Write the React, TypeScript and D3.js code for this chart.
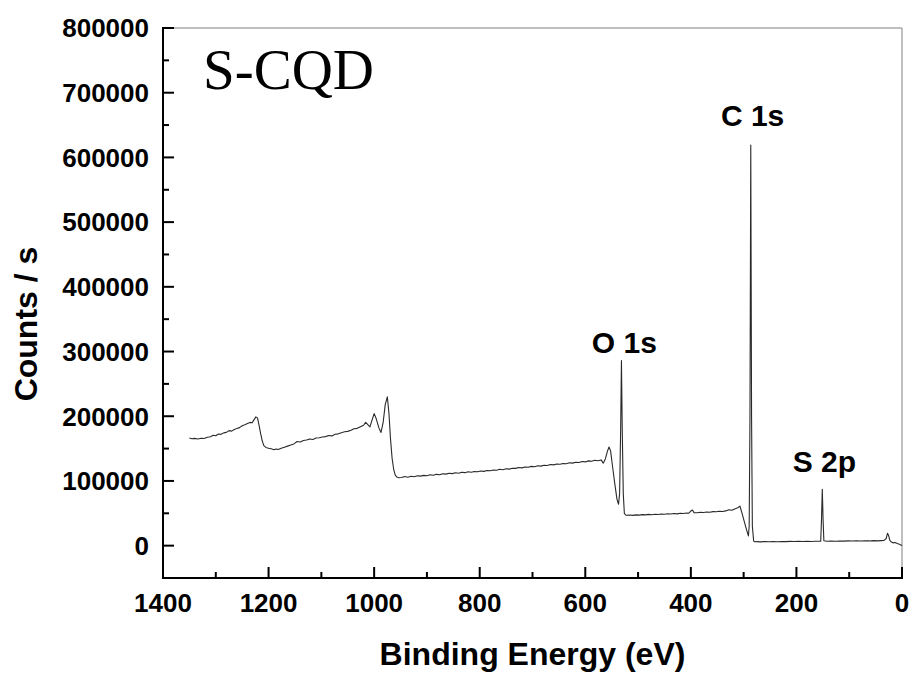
import React from "react";
import * as d3 from "d3";

// Binding energy (eV), counts/s
const spectrum: [number, number][] = [
  [1350, 166500], [1345, 165200], [1340, 165800], [1334, 164900], [1328, 166000],
  [1322, 165600], [1316, 167400], [1310, 168200], [1305, 170500], [1300, 169800],
  [1295, 172600], [1290, 172000], [1285, 174300], [1280, 175100], [1275, 177800],
  [1270, 177000], [1265, 179600], [1260, 180900], [1255, 182400], [1250, 185300],
  [1245, 186800], [1240, 188700], [1235, 190500], [1231, 190000], [1228, 194000],
  [1224, 199000], [1221, 197500], [1218, 186000], [1215, 173000], [1212, 162000],
  [1209, 154500], [1205, 151800], [1200, 150500], [1195, 149800], [1190, 148200],
  [1186, 149500], [1182, 148700], [1176, 150600], [1170, 152200], [1164, 153800],
  [1158, 155500], [1152, 157200], [1146, 160900], [1140, 160100], [1134, 162500],
  [1128, 163200], [1122, 164900], [1116, 164100], [1110, 166300], [1104, 166800],
  [1098, 167900], [1092, 168500], [1086, 170200], [1080, 169600], [1074, 172100],
  [1068, 172800], [1062, 174500], [1056, 175900], [1050, 176600], [1044, 178200],
  [1038, 180600], [1032, 181300], [1026, 183800], [1020, 186000], [1016, 190500],
  [1012, 187000], [1008, 183600], [1004, 194000], [1000, 204000], [996, 196000],
  [991, 182000], [987, 175000], [983, 190000], [979, 218000], [975, 230000],
  [972, 205000], [969, 165000], [966, 135000], [963, 118000], [960, 109000],
  [957, 106000], [953, 105000], [948, 105400], [942, 106900], [936, 105800],
  [930, 107300], [924, 106500], [918, 108100], [912, 107400], [906, 108600],
  [900, 108000], [894, 109500], [888, 108900], [882, 110200], [876, 109600],
  [870, 111100], [864, 110500], [858, 111800], [852, 111300], [846, 112600],
  [840, 112000], [834, 113400], [828, 112800], [822, 114100], [816, 113500],
  [810, 114700], [804, 114200], [798, 115400], [792, 114800], [786, 116100],
  [780, 115700], [774, 117000], [768, 116600], [762, 118000], [756, 117400],
  [750, 118900], [744, 118300], [738, 119700], [732, 119400], [726, 120800],
  [720, 120200], [714, 121600], [708, 121100], [702, 122500], [696, 122000],
  [690, 123400], [684, 122900], [678, 124300], [672, 123800], [666, 125300],
  [660, 124800], [654, 126200], [648, 125700], [642, 127000], [636, 126600],
  [630, 128100], [624, 127500], [618, 129000], [612, 128400], [606, 130000],
  [600, 129400], [594, 131000], [588, 130400], [582, 132000], [576, 131300],
  [570, 132500], [566, 127500], [562, 134000], [558, 146000], [555, 152500],
  [552, 146000], [548, 120000], [544, 95000], [540, 72000], [537, 64000],
  [535, 80000], [533, 180000], [531.5, 286000], [530, 180000], [528, 80000],
  [526, 50000], [523, 47000], [516, 47400], [510, 46800], [504, 47600],
  [498, 47200], [492, 48000], [486, 47500], [480, 48300], [474, 47800],
  [468, 48600], [462, 48100], [456, 48900], [450, 48500], [444, 49200],
  [438, 48800], [432, 49600], [426, 49100], [420, 50000], [414, 49600],
  [408, 50400], [404, 50100], [400, 53500], [397, 55000], [394, 51000],
  [388, 50800], [382, 51600], [376, 51200], [370, 52100], [364, 51700],
  [358, 52600], [352, 52300], [346, 53100], [340, 52800], [334, 53700],
  [328, 55500], [322, 54800], [316, 57000], [311, 58500], [307, 61000],
  [303, 50000], [299, 38000], [295, 26000], [291, 15000], [289.5, 30000],
  [288, 200000], [286.5, 619000], [285, 200000], [283.5, 30000], [281, 7000],
  [279, 6000], [274, 6200], [268, 5900], [260, 6300], [252, 6000],
  [244, 6400], [236, 6100], [228, 6500], [220, 6200], [212, 6600],
  [204, 6300], [196, 6700], [188, 6400], [180, 6800], [172, 6500],
  [164, 6900], [157, 6700], [154, 7000], [152.5, 40000], [151, 87000],
  [149.5, 40000], [148, 7500], [142, 6800], [134, 7100], [126, 6900],
  [118, 7200], [110, 7000], [102, 7300], [94, 7100], [86, 7400],
  [78, 7200], [70, 7500], [62, 7300], [54, 7700], [46, 7400],
  [40, 7800], [34, 8200], [30, 11000], [27.5, 19000], [25.5, 16000],
  [23, 8000], [20, 5500], [17, 4300], [13, 4800], [9, 3200],
  [5, 2200], [2, 800], [0, 300],
];

const xMajorTicks = [1400, 1200, 1000, 800, 600, 400, 200, 0];
const xMinorTicks = [1300, 1100, 900, 700, 500, 300, 100];
const yMajorTicks = [0, 100000, 200000, 300000, 400000, 500000, 600000, 700000, 800000];
const yMinorTicks = [-50000, 50000, 150000, 250000, 350000, 450000, 550000, 650000, 750000];

const peakLabels: { text: string; energy: number; counts: number }[] = [
  { text: "O 1s", energy: 526, counts: 297500 },
  { text: "C 1s", energy: 283, counts: 648400 },
  { text: "S 2p", energy: 147, counts: 113600 },
];

const sampleName = "S-CQD";
const xTitle = "Binding Energy (eV)";
const yTitle = "Counts / s";

const W = 912;
const H = 673;
const left = 163;
const right = 902;
const top = 28;
const bottom = 578;

export default function App() {
  const x = d3.scaleLinear().domain([1400, 0]).range([left, right]);
  const y = d3.scaleLinear().domain([-50000, 800000]).range([bottom, top]);
  const line = d3
    .line<[number, number]>()
    .x((d) => x(d[0]))
    .y((d) => y(d[1]));

  const sans = "'Liberation Sans', Arial, sans-serif";

  return (
    <svg
      width={W}
      height={H}
      viewBox={`0 0 ${W} ${H}`}
      style={{ position: "absolute", left: 0, top: 0, background: "#fff" }}
    >
      <rect x={0} y={0} width={W} height={H} fill="#fff" />
      {/* frame top/right */}
      <line x1={left} x2={right} y1={top} y2={top} stroke="#aaa" strokeWidth={1.5} />
      <line x1={right} x2={right} y1={top} y2={bottom} stroke="#aaa" strokeWidth={1.5} />

      {/* spectrum */}
      <path d={line(spectrum) || ""} fill="none" stroke="#2a2a2a" strokeWidth={1.1} strokeLinejoin="round" />

      {/* axes */}
      <line x1={left} x2={left} y1={top - 1} y2={bottom + 1} stroke="#000" strokeWidth={2} />
      <line x1={left - 1} x2={right + 1} y1={bottom} y2={bottom} stroke="#000" strokeWidth={2} />

      {yMajorTicks.map((v) => (
        <g key={"ym" + v}>
          <line x1={left} x2={left + 11} y1={y(v)} y2={y(v)} stroke="#000" strokeWidth={2} />
          <text
            x={149}
            y={y(v)}
            dy="0.36em"
            textAnchor="end"
            fontFamily={sans}
            fontWeight="bold"
            fontSize={26}
            fill="#000"
          >
            {v}
          </text>
        </g>
      ))}
      {yMinorTicks.map((v) => (
        <line key={"yn" + v} x1={left} x2={left + 6} y1={y(v)} y2={y(v)} stroke="#000" strokeWidth={2} />
      ))}

      {xMajorTicks.map((v) => (
        <g key={"xm" + v}>
          <line x1={x(v)} x2={x(v)} y1={bottom} y2={bottom - 11} stroke="#000" strokeWidth={2} />
          <text
            x={x(v)}
            y={612}
            textAnchor="middle"
            fontFamily={sans}
            fontWeight="bold"
            fontSize={26}
            fill="#000"
          >
            {v}
          </text>
        </g>
      ))}
      {xMinorTicks.map((v) => (
        <line key={"xn" + v} x1={x(v)} x2={x(v)} y1={bottom} y2={bottom - 6} stroke="#000" strokeWidth={2} />
      ))}

      {/* axis titles */}
      <text
        x={(left + right) / 2}
        y={665}
        textAnchor="middle"
        fontFamily={sans}
        fontWeight="bold"
        fontSize={32}
        fill="#000"
      >
        {xTitle}
      </text>
      <text
        transform={`translate(37, 324) rotate(-90)`}
        textAnchor="middle"
        fontFamily={sans}
        fontWeight="bold"
        fontSize={32}
        fill="#000"
      >
        {yTitle}
      </text>

      {/* peak labels */}
      {peakLabels.map((p) => (
        <text
          key={p.text}
          x={x(p.energy)}
          y={y(p.counts)}
          textAnchor="middle"
          fontFamily={sans}
          fontWeight="bold"
          fontSize={30}
          fill="#000"
        >
          {p.text}
        </text>
      ))}

      {/* sample name */}
      <text x={203} y={89} fontFamily="'Liberation Serif', 'Times New Roman', serif" fontSize={57} fill="#000">
        {sampleName}
      </text>
    </svg>
  );
}
